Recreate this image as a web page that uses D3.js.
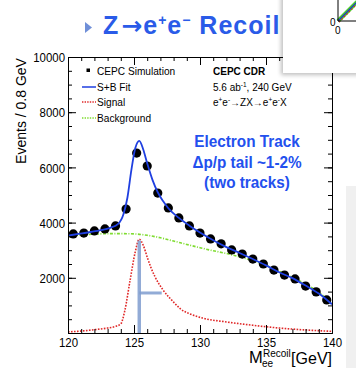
<!DOCTYPE html>
<meta charset="utf-8">
<script src="https://d3js.org/d3.v7.min.js"></script>
<style>
  body { margin: 0; background: #fff; }
  text { font-family: "Liberation Sans", Arial, sans-serif; }
</style>
<div id="chart"></div>
<script>

// binned "data" points (0.8 GeV bins)
var massBins = [120.4, 121.2, 122.0, 122.8, 123.6, 124.4, 125.2, 126.0, 126.8, 127.6, 128.4, 129.2, 130.0,
                130.8, 131.6, 132.4, 133.2, 134.0, 134.8, 135.6, 136.4, 137.2, 138.0, 138.8, 139.6];
var events = [3590, 3620, 3700, 3770, 3880, 4490, 6520, 6050, 5070, 4530, 4170, 3880, 3620,
              3410, 3230, 3010, 2860, 2680, 2500, 2280, 2100, 1960, 1700, 1490, 1200];

// S+B fit curve
var fitMass = [120, 120.8, 121.6, 122.4, 123.2, 123.8, 124.2, 124.5, 124.8, 125.1, 125.4, 125.7, 126.0, 126.4,
               126.8, 127.2, 127.6, 128.4, 129.2, 130, 131, 132, 133, 134, 135, 136, 137, 138, 139, 140];
var fitValue = [3530, 3590, 3650, 3720, 3810, 3950, 4300, 4900, 5900, 6700, 6960, 6650, 6150, 5550,
                5100, 4780, 4520, 4170, 3890, 3640, 3360, 3110, 2900, 2680, 2450, 2200, 1990, 1720, 1430, 1040];

// signal component
var sigMass = [120, 121, 122, 123, 123.6, 124.0, 124.3, 124.7, 125.1, 125.4, 125.7, 126.0, 126.3, 126.6,
               127.2, 128.0, 128.5, 129.3, 130.2, 132, 134, 136, 138, 140];
var sigValue = [40, 70, 120, 180, 240, 330, 800, 1900, 2950, 3400, 3180, 2750, 2350, 2030,
                1560, 1120, 880, 680, 540, 400, 280, 180, 110, 60];

// background component
var bkgMass = [120, 121, 122, 123, 124, 125, 126, 127, 128, 129, 130, 131, 132, 133, 134, 135, 136, 137, 138, 139, 140];
var bkgValue = [3510, 3550, 3580, 3600, 3600, 3590, 3540, 3450, 3330, 3210, 3090, 2980, 2880, 2760,
                2620, 2450, 2240, 2020, 1770, 1480, 1040];

// axis ticks
var xMajor = [120, 125, 130, 135, 140];
var xMinor = d3.range(120, 141, 1);
var yMajor = [2000, 4000, 6000, 8000, 10000];
var yMinor = d3.range(0, 10001, 500);

var legendItems = ["CEPC Simulation", "S+B Fit", "Signal", "Background"];
var note = ["Electron Track", "\u0394p/p tail ~1-2%", "(two tracks)"];

var W = 356, H = 368;
var svg = d3.select("#chart").append("svg")
    .attr("width", W).attr("height", H);

var x = d3.scaleLinear().domain([120, 140]).range([68, 332]);
var y = d3.scaleLinear().domain([0, 10000]).range([333, 57]);

// squash plot text a little (the plot image is narrower than its height)
function squash(sel, f) {
  sel.each(function() {
    var w = this.getComputedTextLength();
    d3.select(this).attr("textLength", w * f).attr("lengthAdjust", "spacingAndGlyphs");
  });
}

// ---- title
svg.append("path")
  .attr("d", "M85,22 L92,27.5 L85,33 Z")
  .style("fill", "#6f8fd8");
var title = svg.append("text").attr("x", 103).attr("y", 34)
  .style("font-size", "25px").style("font-weight", "bold").style("fill", "#2a5be8")
  .style("letter-spacing", "1px");
title.append("tspan").text("Z");
title.append("tspan").text("\u2192").style("font-family", "DejaVu Sans").attr("dx", 2);
title.append("tspan").text("e");
title.append("tspan").text("+").style("font-size", "14px").attr("dy", -9);
title.append("tspan").text("e").attr("dy", 9);
title.append("tspan").text("\u2212").style("font-size", "14px").attr("dy", -9);
title.append("tspan").text(" Recoil").attr("dy", 9);

// ---- curves
var line = d3.line().curve(d3.curveMonotoneX);

svg.append("path")
  .attr("d", line(bkgMass.map(function(m, i) { return [x(m), y(bkgValue[i])]; })))
  .style("fill", "none").style("stroke", "#7fdc30").style("stroke-width", 1.6)
  .style("stroke-dasharray", "3,1.5,1,1.5");

svg.append("path")
  .attr("d", line(sigMass.map(function(m, i) { return [x(m), y(sigValue[i])]; })))
  .style("fill", "none").style("stroke", "#e02828").style("stroke-width", 1.6)
  .style("stroke-dasharray", "1.6,1.4");

// resolution marker on signal peak
svg.append("line")
  .attr("x1", x(125.4)).attr("x2", x(125.4)).attr("y1", y(3350)).attr("y2", y(0))
  .style("stroke", "#7f9dcf").style("stroke-width", 3.5).style("opacity", 0.85);
svg.append("line")
  .attr("x1", x(125.4)).attr("x2", x(127.1)).attr("y1", y(1450)).attr("y2", y(1450))
  .style("stroke", "#7f9dcf").style("stroke-width", 3).style("opacity", 0.85);

// data points
svg.selectAll("circle.pt")
  .data(massBins)
  .enter()
  .append("circle")
    .attr("class", "pt")
    .attr("cx", function(d) { return x(d); })
    .attr("cy", function(d, i) { return y(events[i]); })
    .attr("r", 4.6)
    .style("fill", "#000");

svg.append("path")
  .attr("d", line(fitMass.map(function(m, i) { return [x(m), y(fitValue[i])]; })))
  .style("fill", "none").style("stroke", "#1f3fe0").style("stroke-width", 1.8);

// ---- frame and ticks
function frame(axis, tr, vals, size, labels) {
  var g = svg.append("g").attr("transform", tr)
    .call(axis.tickValues(vals).tickSize(size).tickSizeOuter(0).tickPadding(4)
      .tickFormat(labels ? d3.format("d") : ""));
  g.select(".domain").style("stroke", "#000");
  g.selectAll(".tick line").style("stroke", "#000");
  g.selectAll("text").style("font-size", "13px").style("fill", "#000")
    .attr("font-family", null);
  return g;
}
var gl = frame(d3.axisLeft(y), "translate(68,0)", yMajor, -8, true);
frame(d3.axisLeft(y), "translate(68,0)", yMinor, -4, false);
var gb = frame(d3.axisBottom(x), "translate(0,333)", xMajor, -8, true);
frame(d3.axisBottom(x), "translate(0,333)", xMinor, -4, false);
frame(d3.axisRight(y), "translate(332,0)", yMajor, -8, false);
frame(d3.axisRight(y), "translate(332,0)", yMinor, -4, false);
frame(d3.axisTop(x), "translate(0,57)", xMajor, -8, false);
frame(d3.axisTop(x), "translate(0,57)", xMinor, -4, false);
gl.selectAll(".tick text").attr("dy", "0.36em").attr("x", -3);
gb.selectAll(".tick text").attr("dy", null).attr("y", 13.5);
squash(gl.selectAll(".tick text"), 0.88);
squash(gb.selectAll(".tick text"), 0.88);

// axis titles
svg.append("text")
  .attr("transform", "translate(26,111) rotate(-90)")
  .attr("text-anchor", "middle")
  .style("font-size", "14px")
  .text("Events / 0.8  GeV");

svg.append("text").attr("x", 249).attr("y", 363).style("font-size", "16.5px").text("M");
svg.append("text").attr("x", 263).attr("y", 357).style("font-size", "10px").text("Recoil");
svg.append("text").attr("x", 262).attr("y", 367).style("font-size", "10px").text("ee");
svg.append("text").attr("x", 332).attr("y", 364).attr("text-anchor", "end")
  .style("font-size", "16px").text("[GeV]");

// ---- legend
var ly = [71, 87, 102, 118];
svg.append("rect").attr("x", 86.5).attr("y", ly[0] - 2.5).attr("width", 3.5).attr("height", 3.5).style("fill", "#000");
svg.append("line").attr("x1", 82).attr("x2", 96).attr("y1", ly[1]).attr("y2", ly[1])
  .style("stroke", "#1f3fe0").style("stroke-width", 1.5);
svg.append("line").attr("x1", 82).attr("x2", 96).attr("y1", ly[2]).attr("y2", ly[2])
  .style("stroke", "#e02828").style("stroke-width", 1.3).style("stroke-dasharray", "1.4,1.2");
svg.append("line").attr("x1", 82).attr("x2", 96).attr("y1", ly[3]).attr("y2", ly[3])
  .style("stroke", "#7fdc30").style("stroke-width", 1.3).style("stroke-dasharray", "1.4,1.2");
var lt = svg.selectAll("text.leg")
  .data(legendItems)
  .enter()
  .append("text")
    .attr("class", "leg")
    .attr("x", 97)
    .attr("y", function(d, i) { return ly[i] + 4; })
    .style("font-size", "11.5px")
    .text(function(d) { return d; });
squash(lt, 0.88);

// ---- info block
svg.append("text").attr("x", 213).attr("y", 75)
  .style("font-size", "10px").style("font-weight", "bold").text("CEPC CDR");
var i2 = svg.append("text").attr("x", 213).attr("y", 91).style("font-size", "10px");
i2.append("tspan").text("5.6 ab");
i2.append("tspan").text("-1").style("font-size", "6.5px").attr("dy", -4);
i2.append("tspan").text(", 240 GeV").attr("dy", 4);
var i3 = svg.append("text").attr("x", 213).attr("y", 106).style("font-size", "10px");
i3.append("tspan").text("e");
i3.append("tspan").text("+").style("font-size", "6.5px").attr("dy", -4);
i3.append("tspan").text("e").attr("dy", 4);
i3.append("tspan").text("-").style("font-size", "6.5px").attr("dy", -4);
i3.append("tspan").text("\u2192ZX\u2192e").attr("dy", 4);
i3.append("tspan").text("+").style("font-size", "6.5px").attr("dy", -4);
i3.append("tspan").text("e").attr("dy", 4);
i3.append("tspan").text("-").style("font-size", "6.5px").attr("dy", -4);
i3.append("tspan").text("X").attr("dy", 4);

// ---- big blue annotation
var nt = svg.selectAll("text.note")
  .data(note)
  .enter()
  .append("text")
    .attr("class", "note")
    .attr("x", 247)
    .attr("y", function(d, i) { return 147 + i * 20.5; })
    .attr("text-anchor", "middle")
    .style("font-size", "17px").style("font-weight", "bold").style("fill", "#2350ee")
    .text(function(d) { return d; });
squash(nt, 0.9);

// ---- overlapping slide box top right
var defs = svg.append("defs");
var f = defs.append("filter").attr("id", "sh").attr("x", "-20%").attr("y", "-20%").attr("width", "140%").attr("height", "140%");
f.append("feGaussianBlur").attr("stdDeviation", 2);
svg.append("rect").attr("x", 281).attr("y", -5).attr("width", 90).attr("height", 80)
  .style("fill", "#000").style("opacity", 0.25).attr("filter", "url(#sh)");
svg.append("rect").attr("x", 283).attr("y", -5).attr("width", 90).attr("height", 78).style("fill", "#fff");

// right side gray strip
svg.append("rect").attr("x", 346).attr("y", 186).attr("width", 12).attr("height", 190).style("fill", "#f0f0f0");

// tiny inset plot peeking in
var ix = d3.scaleLinear().domain([0, 1]).range([338, 362]);
var iy = d3.scaleLinear().domain([0, 1]).range([21, -3]);
var insetDiag = [[0, 0], [0.25, 0.25], [0.5, 0.5], [0.75, 0.75], [1, 1]];
svg.append("path").attr("d", d3.line()(insetDiag.map(function(d) { return [ix(d[0]), iy(d[1])]; })))
  .style("stroke", "#4ccc2c").style("stroke-width", 4).style("fill", "none");
svg.append("path").attr("d", d3.line()(insetDiag.map(function(d) { return [ix(d[0]), iy(d[1])]; })))
  .style("stroke", "#2233cc").style("stroke-width", 1.2).style("fill", "none");
svg.append("path").attr("d", d3.line()(insetDiag.map(function(d) { return [ix(d[0]) + 1, iy(d[1]) + 1]; })))
  .style("stroke", "#dd2222").style("stroke-width", 1.2).style("fill", "none").style("stroke-dasharray", "1.5,2");
svg.append("path").attr("d", "M" + ix(0) + "," + iy(1.2) + "V" + iy(0) + "H" + ix(1))
  .style("stroke", "#000").style("fill", "none");
svg.append("text").attr("x", 330).attr("y", 26).style("font-size", "10px").text("0");
svg.append("text").attr("x", 335).attr("y", 34).style("font-size", "10px").text("0");

</script>
